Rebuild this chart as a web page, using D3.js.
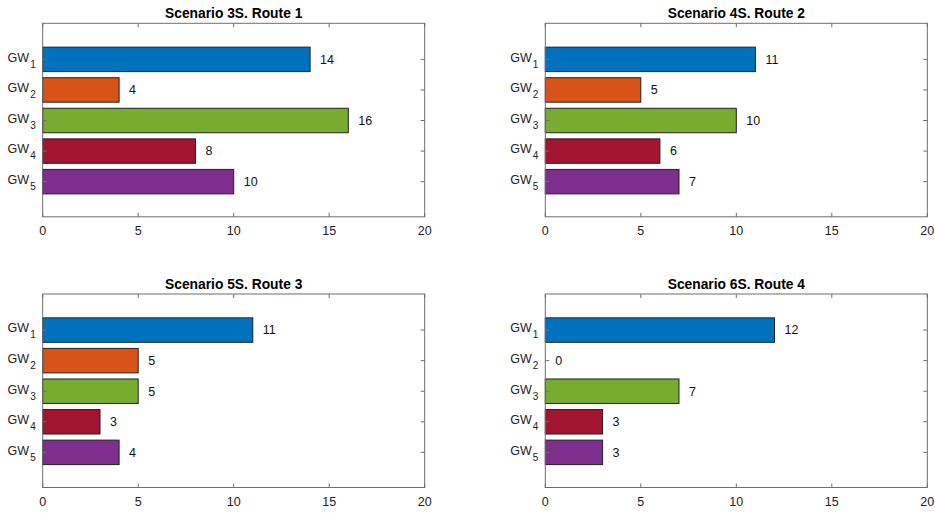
<!DOCTYPE html>
<html>
<head>
<meta charset="utf-8">
<script src="https://cdn.jsdelivr.net/npm/d3@7"></script>
<style>
  body { margin: 0; background: #fff; }
  text { font-family: "Liberation Sans", Arial, sans-serif; }
</style>
</head>
<body>
<svg id="chart" width="935" height="513"></svg>
<script>
// data
var titles = ["Scenario 3S. Route 1", "Scenario 4S. Route 2", "Scenario 5S. Route 3", "Scenario 6S. Route 4"];
var gateways = ["1", "2", "3", "4", "5"];
var route1 = [14, 4, 16, 8, 10];
var route2 = [11, 5, 10, 6, 7];
var route3 = [11, 5, 5, 3, 4];
var route4 = [12, 0, 7, 3, 3];
var xTicks = [0, 5, 10, 15, 20];
var barColors = ["#0072BD", "#D95319", "#77AC30", "#A2142F", "#7E2F8E"];

var series = [route1, route2, route3, route4];

// panel boxes (left, top) in px
var panels = [
  {x: 42.7, y: 23.3}, {x: 545.3, y: 23.3},
  {x: 42.7, y: 294}, {x: 545.3, y: 294}
];
var pw = 382, ph = 193.5;
var axisColor = "#6e6e6e";

var svg = d3.select("#chart");

panels.forEach(function(p, k) {
  var vals = series[k];
  var g = svg.append("g").attr("transform", "translate(" + p.x + "," + p.y + ")");

  var x = d3.scaleLinear().domain([0, 20]).range([0, pw]);
  var y = d3.scaleLinear().domain([-0.18, 6.15]).range([0, ph]);
  var bh = (y(1) - y(0)) * 0.8;

  // bars
  g.selectAll("rect.bar")
    .data(vals)
    .enter()
    .append("rect")
    .attr("class", "bar")
    .attr("x", x(0))
    .attr("y", function(d, i) { return y(i + 1) - bh / 2; })
    .attr("width", function(d) { return x(d) - x(0); })
    .attr("height", bh)
    .attr("fill", function(d, i) { return barColors[i]; })
    .attr("stroke", function(d) { return d > 0 ? "#222" : "none"; })
    .attr("stroke-width", 1);

  // value labels
  g.selectAll("text.val")
    .data(vals)
    .enter()
    .append("text")
    .attr("class", "val")
    .attr("x", function(d) { return x(d) + 10; })
    .attr("y", function(d, i) { return y(i + 1); })
    .attr("dy", "0.35em")
    .attr("font-size", 12.5)
    .attr("fill", "#111")
    .text(function(d) { return d; });

  // box
  g.append("rect")
    .attr("x", 0).attr("y", 0).attr("width", pw).attr("height", ph)
    .attr("fill", "none").attr("stroke", axisColor).attr("stroke-width", 1);

  // x ticks (inside, bottom and top)
  xTicks.forEach(function(t) {
    g.append("line").attr("x1", x(t)).attr("x2", x(t)).attr("y1", ph).attr("y2", ph - 4)
      .attr("stroke", axisColor);
    g.append("line").attr("x1", x(t)).attr("x2", x(t)).attr("y1", 0).attr("y2", 4)
      .attr("stroke", axisColor);
    g.append("text")
      .attr("x", x(t)).attr("y", ph + 18)
      .attr("text-anchor", "middle")
      .attr("font-size", 12.5)
      .attr("fill", "#222")
      .text(t);
  });

  // y ticks and labels
  gateways.forEach(function(s, i) {
    var yy = y(i + 1);
    g.append("line").attr("x1", 0).attr("x2", 4).attr("y1", yy).attr("y2", yy).attr("stroke", axisColor);
    g.append("line").attr("x1", pw).attr("x2", pw - 4).attr("y1", yy).attr("y2", yy).attr("stroke", axisColor);
    var lab = g.append("text")
      .attr("x", -7).attr("y", yy - 2)
      .attr("dy", "0.35em")
      .attr("text-anchor", "end")
      .attr("font-size", 12.5)
      .attr("fill", "#222");
    lab.append("tspan").text("GW");
    lab.append("tspan").attr("font-size", 10).attr("dx", "1").attr("dy", "6").text(s);
  });

  // title
  g.append("text")
    .attr("x", pw / 2).attr("y", -5)
    .attr("text-anchor", "middle")
    .attr("font-size", 13.8)
    .attr("font-weight", "bold")
    .attr("fill", "#000")
    .text(titles[k]);
});
</script>
</body>
</html>
